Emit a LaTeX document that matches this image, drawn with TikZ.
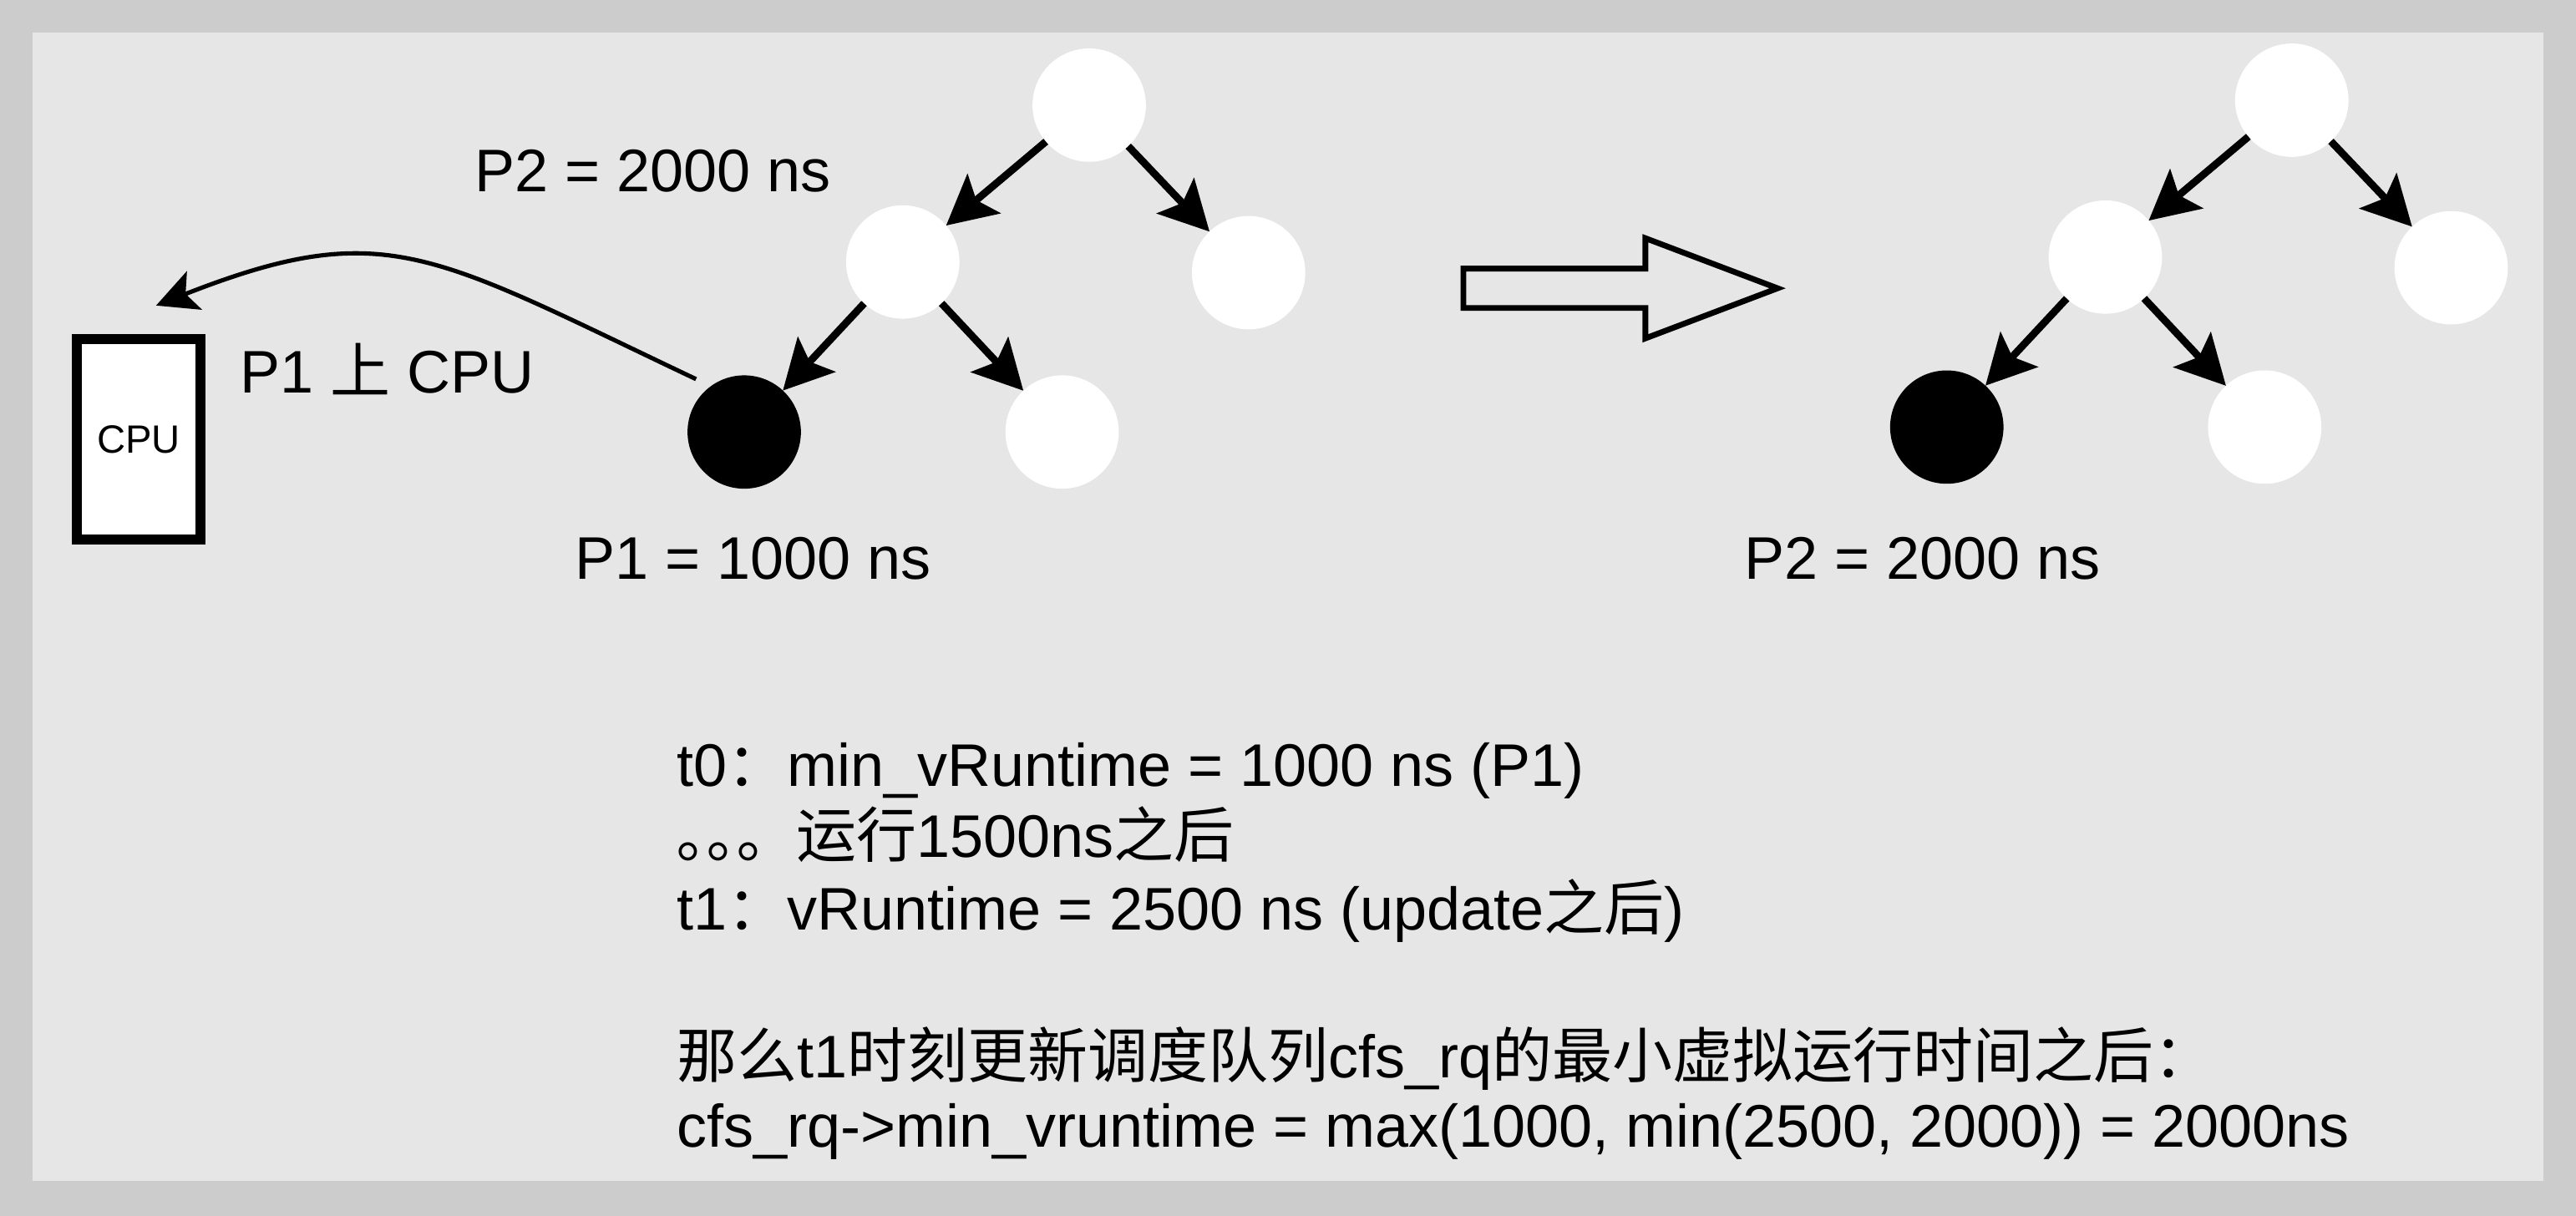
\documentclass[tikz,border=0pt]{standalone}
\usepackage{fontspec}
\setmainfont{Liberation Sans}
\newfontfamily\cjk{Noto Sans CJK SC}
\usetikzlibrary{arrows.meta}
\definecolor{outerbg}{HTML}{CCCCCC}
\definecolor{panelbg}{HTML}{E6E6E6}
\begin{document}
\begin{tikzpicture}[x=1pt,y=-1pt,
  wnode/.style={circle,fill=white,minimum size=69pt,inner sep=0pt,outer sep=0pt},
  bnode/.style={wnode,fill=black},
  treearrow/.style={line width=4.5pt,-{Stealth[length=30pt,width=31pt,inset=6pt]}},
  movearrow/.style={line width=2.6pt,-{Stealth[length=25pt,width=25pt,inset=5.7pt]}},
  lbl/.style={anchor=base west,inner sep=0pt,outer sep=0pt,font=\fontsize{36.6}{43}\selectfont},
  cpubox/.style={draw=black,fill=white,line width=6.1pt,minimum width=75.2pt,minimum height=121.8pt,inner sep=0pt,font=\fontsize{24}{28}\selectfont},
  hollow/.style={draw=black,line width=3.5pt,line join=miter}
  ]
\fill[outerbg] (0,0) rectangle (1568,740.27);
\fill[panelbg] (20,20) rectangle (1548,719);
\useasboundingbox (0,0) rectangle (1568,740.27);

% left tree
\node[wnode] (r1) at (663,64) {};
\node[wnode] (a1) at (549.5,159.5) {};
\node[wnode] (c1) at (760,166) {};
\node[bnode] (b1) at (453,263) {};
\node[wnode] (d1) at (646.5,263) {};
\draw[treearrow] (r1) -- (a1);
\draw[treearrow] (r1) -- (c1);
\draw[treearrow] (a1) -- (b1);
\draw[treearrow] (a1) -- (d1);

% right tree
\node[wnode] (r2) at (1395,61) {};
\node[wnode] (a2) at (1281.5,156.5) {};
\node[wnode] (c2) at (1492,163) {};
\node[bnode] (b2) at (1185,260) {};
\node[wnode] (d2) at (1378.5,260) {};
\draw[treearrow] (r2) -- (a2);
\draw[treearrow] (r2) -- (c2);
\draw[treearrow] (a2) -- (b2);
\draw[treearrow] (a2) -- (d2);

% CPU box
\node[cpubox] (cpu) at (84.35,267.35) {CPU};
\coordinate (cputip) at (95,186);
\draw[movearrow,shorten <=10pt] (b1.126) .. controls (262.3,154.3) and (234.5,131.25) .. (cputip);

% hollow arrow
\draw[hollow] (890.75,163.5) -- (1001.5,163.5) -- (1001.5,145) -- (1082,175.5) -- (1001.5,206) -- (1001.5,187.5) -- (890.75,187.5) -- cycle;

% labels
\node[lbl] (p2top) at (289,116.7) {P2 = 2000 ns};
\node[lbl] (p1lbl) at (350,352.5) {P1 = 1000 ns};
\node[lbl] (p2right) at (1062,352.5) {P2 = 2000 ns};
\node[lbl] (p1cpu) at (146.3,239) {P1 {\cjk 上} CPU};

% bottom text
\node[lbl] (line1) at (412,478.8) {t0{\cjk ：}min\_vRuntime = 1000 ns (P1)};
\node[lbl] (line2) at (412,522) {{\cjk ｡｡｡}\hspace{18pt}{\cjk 运行}1500ns{\cjk 之后}};
\node[lbl] (line3) at (412,566) {t1{\cjk ：}vRuntime = 2500 ns (update{\cjk 之后})};
\node[lbl] (line4) at (412,655.9) {{\cjk 那么}t1{\cjk 时刻更新调度队列}cfs\_rq{\cjk 的最小虚拟运行时间之后：}};
\node[lbl] (line5) at (412,698.3) {cfs\_rq->min\_vruntime = max(1000, min(2500, 2000)) = 2000ns};
\end{tikzpicture}
\end{document}
